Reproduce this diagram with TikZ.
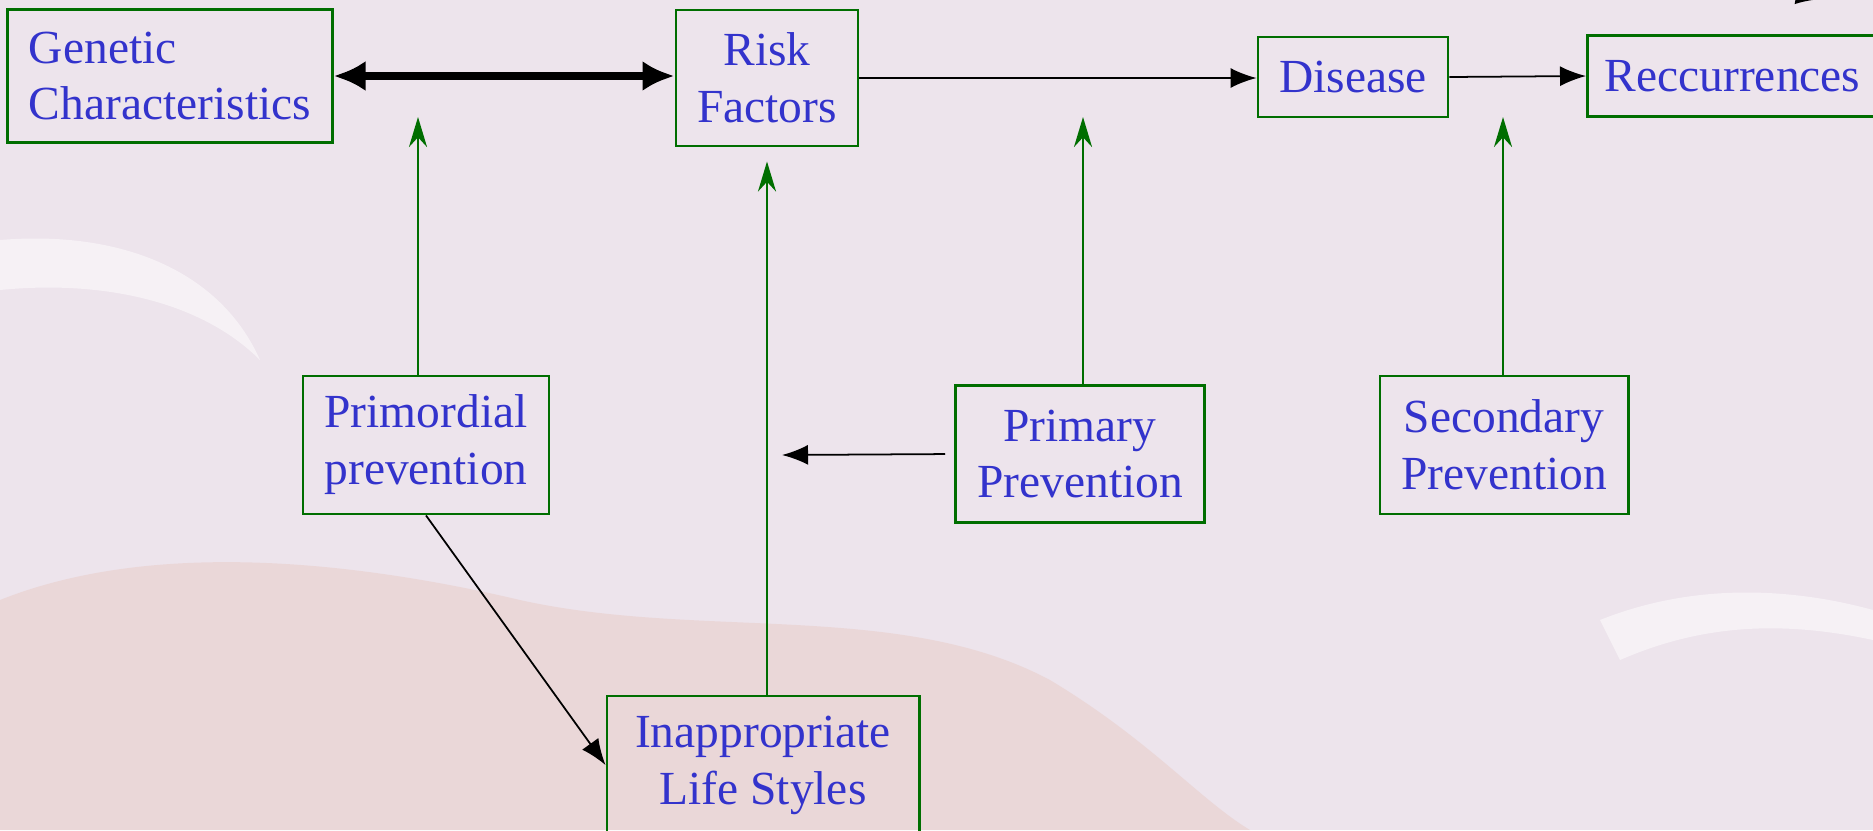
\documentclass[tikz,border=0pt]{standalone}
\usepackage{fontspec}
\setmainfont{Liberation Serif}
\usepackage{xcolor}
\usetikzlibrary{arrows.meta,positioning}

\definecolor{bgpink}{RGB}{237,228,236}
\definecolor{bgwarm}{RGB}{234,212,212}
\definecolor{boxgreen}{RGB}{0,110,0}
\definecolor{txtblue}{RGB}{51,51,204}

\begin{document}
\begin{tikzpicture}[x=0.01cm, y=-0.01cm, thick]
    % Stili
    \tikzstyle{box}=[rectangle, draw=boxgreen, line width=0.8pt, text=txtblue, inner sep=0pt, align=center, font=\fontsize{13.5}{16.2}\selectfont]
    \tikzstyle{arrow}=[-{Latex[length=2.6mm,width=2mm]}, line width=0.5pt, black]
    \tikzstyle{prev}=[-{Stealth[length=3mm,width=1.8mm]}, line width=0.8pt, boxgreen]

    % Sfondo
    \useasboundingbox (0,0) rectangle (1873,830);
    \fill[bgpink] (0,0) rectangle (1873,830);
    \fill[bgwarm, opacity=0.8] (0,600) .. controls (150,540) and (350,560) .. (520,600)
        .. controls (700,640) and (900,600) .. (1050,680)
        .. controls (1150,740) and (1200,800) .. (1250,830) -- (0,830) -- cycle;
    \fill[white, opacity=0.5] (0,240) .. controls (120,230) and (220,270) .. (260,360)
        .. controls (200,300) and (100,280) .. (0,290) -- cycle;
    \fill[white, opacity=0.5] (1600,620) .. controls (1700,580) and (1800,590) .. (1873,610)
        -- (1873,640) .. controls (1780,620) and (1700,625) .. (1620,660) -- cycle;

    % Catena principale
    \node (genetic) [box, align=left, minimum width=3.24cm, minimum height=1.33cm] at (170,76) {Genetic\\Characteristics};
    \node (risk) [box, minimum width=1.82cm, minimum height=1.36cm] at (767,78) {Risk\\Factors};
    \node (disease) [box, minimum width=1.9cm, minimum height=0.8cm] at (1353,77) {Disease};
    \node (recur) [box, minimum width=2.9cm, minimum height=0.81cm, anchor=west] at (1586,76) {Reccurrences};

    % Prevenzione
    \node (primordial) [box, minimum width=2.46cm, minimum height=1.38cm] at (426,445) {Primordial\\prevention};
    \node (primary) [box, minimum width=2.49cm, minimum height=1.37cm] at (1080,454) {Primary\\Prevention};
    \node (secondary) [box, minimum width=2.48cm, minimum height=1.38cm] at (1504,445) {Secondary\\Prevention};
    \node (lifestyles) [box, minimum width=3.12cm, minimum height=1.38cm] at (763,765) {Inappropriate\\Life Styles};

    % Punti liberi
    \coordinate (tgen) at (418,117);
    \coordinate (tdis) at (1083,117);
    \coordinate (trec) at (1503,117);
    \coordinate (tline) at (782,455);
    \coordinate (cutA) at (1750,-14);
    \coordinate (cutB) at (1822,-1);

    % Collegamenti
    \draw [{Latex[length=3.2mm,width=3mm]}-{Latex[length=3.2mm,width=3mm]}, line width=2pt] (genetic.east) -- (genetic.east -| risk.west);
    \draw [arrow] (risk.east) -- (risk.east -| disease.west);
    \draw [arrow] (disease.east) -- (recur.west);
    \draw [arrow] (cutA) -- (cutB);
    \draw [prev] (tgen |- primordial.north) -- (tgen);
    \draw [prev, shorten >=4pt] (risk.south |- lifestyles.north) -- (risk.south);
    \draw [prev] (tdis |- primary.north) -- (tdis);
    \draw [prev] (trec |- secondary.north) -- (trec);
    \draw [arrow, shorten <=2.5pt] (primary.west) -- (tline);
    \draw [arrow] (primordial.south) -- (lifestyles.west);

\end{tikzpicture}
\end{document}
